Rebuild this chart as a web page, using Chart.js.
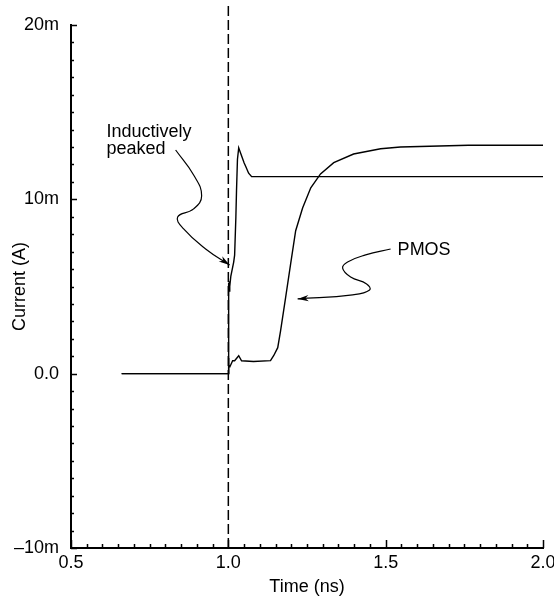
<!DOCTYPE html>
<html>
<head>
<meta charset="utf-8">
<script src="https://cdn.jsdelivr.net/npm/chart.js@4/dist/chart.umd.min.js"></script>
<style>
  html, body { margin: 0; padding: 0; background: #fff; }
</style>
</head>
<body>
<canvas id="chart-area" width="554" height="604"></canvas>
<script>
"use strict";

// Time in ns, current in mA
const TIME_INDUCTIVE = [
  0.661, 1.0, 1.0, 1.001, 1.002, 1.003, 1.004, 1.005, 1.008, 1.017, 1.02,
  1.024, 1.026, 1.029, 1.033, 1.036, 1.04, 1.044, 1.05, 1.055, 1.0645, 1.074, 2.0
];
const CURRENT_INDUCTIVE = [
  0, 0, 3.7, 5.2, 4.6, 5.3, 4.7, 5.0, 5.6, 6.4, 6.8,
  9.0, 10.5, 12.3, 12.95, 12.8, 12.6, 12.4, 12.1, 11.9, 11.5, 11.3, 11.3
];

const TIME_PMOS = [
  0.661, 1.0, 1.0, 1.002, 1.005, 1.0137, 1.02, 1.033, 1.042, 1.08, 1.134,
  1.144, 1.157, 1.166, 1.182, 1.198, 1.214, 1.236, 1.262, 1.293, 1.335,
  1.398, 1.484, 1.547, 1.763, 2.0
];
const CURRENT_PMOS = [
  0, 0, 0.9, 0.5, 0.4, 0.74, 0.74, 1.03, 0.74, 0.7, 0.75,
  1.03, 1.49, 2.46, 4.36, 6.3, 8.2, 9.5, 10.66, 11.46, 12.1,
  12.6, 12.9, 13.0, 13.1, 13.1
];

// switching instant (dashed marker)
const MARKER_TIME = 1.0;

// tick labels
const TIME_TICKS = [0.5, 1.0, 1.5, 2.0];
const CURRENT_TICKS = { "20": "20m", "10": "10m", "0": "0.0", "-10": "\u201310m" };

// callout paths, in the chart's own units (ns, mA)
const CALLOUT_INDUCTIVE = {
  t: [0.8325, 0.8897, 0.9152, 0.8897, 0.8389, 0.858, 0.9279, 1.0041],
  i: [12.83, 11.4, 10.2, 9.45, 8.99, 8.3, 7.15, 6.23],
  text: ["Inductively", "peaked"],
  textT: 0.613,
  textI: [13.58, 12.61]
};
const CALLOUT_PMOS = {
  t: [1.5157, 1.4363, 1.379, 1.3632, 1.3886, 1.4395, 1.449, 1.395, 1.2202],
  i: [7.15, 6.81, 6.41, 6.06, 5.55, 5.15, 4.8, 4.52, 4.29],
  text: ["PMOS"],
  textT: 1.538,
  textI: [6.81]
};

const FONT = { family: '"Liberation Sans", Arial, Helvetica, sans-serif', size: 18 };

function points(ts, vs) {
  return ts.map((t, k) => ({ x: t, y: vs[k] }));
}

function isMajorTime(v) {
  return TIME_TICKS.some(t => Math.abs(t - v) < 1e-6);
}
function isMajorCurrent(v) {
  return CURRENT_TICKS[String(Math.round(v))] !== undefined && Math.abs(v - Math.round(v)) < 1e-6;
}

const curve = {
  showLine: true,
  borderColor: "#000",
  borderWidth: 1.4,
  pointRadius: 0,
  tension: 0
};

const arrow = {
  showLine: true,
  borderColor: "#000",
  borderWidth: 1.2,
  pointRadius: 0,
  tension: 0.45,
  callout: true
};

// inward tick marks, arrowheads and callout text
const decorations = {
  id: "decorations",
  afterDraw(chart) {
    const ctx = chart.ctx;
    const area = chart.chartArea;
    const xs = chart.scales.x;
    const ys = chart.scales.y;

    ctx.save();
    ctx.strokeStyle = "#000";
    ctx.lineWidth = 1.5;
    ctx.beginPath();
    xs.ticks.forEach(tk => {
      const px = Math.round(xs.getPixelForValue(tk.value)) + 0.5;
      const len = isMajorTime(tk.value) ? 8 : 4;
      ctx.moveTo(px, area.bottom);
      ctx.lineTo(px, area.bottom - len);
    });
    ys.ticks.forEach(tk => {
      const py = Math.round(ys.getPixelForValue(tk.value)) + 0.5;
      const len = isMajorCurrent(tk.value) ? 6 : 3;
      ctx.moveTo(area.left, py);
      ctx.lineTo(area.left + len, py);
    });
    ctx.stroke();

    // arrowheads at the end of each callout
    chart.data.datasets.forEach((ds, di) => {
      if (!ds.callout) return;
      const pts = chart.getDatasetMeta(di).data;
      const tip = pts[pts.length - 1];
      const fromX = tip.cp1x !== undefined ? tip.cp1x : pts[pts.length - 2].x;
      const fromY = tip.cp1y !== undefined ? tip.cp1y : pts[pts.length - 2].y;
      const a = Math.atan2(tip.y - fromY, tip.x - fromX);
      const L = 11, W = 3.2;
      ctx.fillStyle = "#000";
      ctx.beginPath();
      ctx.moveTo(tip.x, tip.y);
      ctx.lineTo(tip.x - L * Math.cos(a) + W * Math.sin(a), tip.y - L * Math.sin(a) - W * Math.cos(a));
      ctx.lineTo(tip.x - L * 0.7 * Math.cos(a), tip.y - L * 0.7 * Math.sin(a));
      ctx.lineTo(tip.x - L * Math.cos(a) - W * Math.sin(a), tip.y - L * Math.sin(a) + W * Math.cos(a));
      ctx.closePath();
      ctx.fill();
    });

    ctx.font = FONT.size + "px " + FONT.family;
    ctx.fillStyle = "#000";
    ctx.textAlign = "left";
    ctx.textBaseline = "alphabetic";
    [CALLOUT_INDUCTIVE, CALLOUT_PMOS].forEach(c => {
      c.text.forEach((line, k) => {
        ctx.fillText(line, xs.getPixelForValue(c.textT), ys.getPixelForValue(c.textI[k]));
      });
    });
    ctx.restore();
  }
};

const config = {
  type: "scatter",
  data: {
    datasets: [
      Object.assign({ label: "Inductively peaked", data: points(TIME_INDUCTIVE, CURRENT_INDUCTIVE) }, curve),
      Object.assign({ label: "PMOS", data: points(TIME_PMOS, CURRENT_PMOS) }, curve),
      {
        label: "switch",
        data: [{ x: MARKER_TIME, y: -10 }, { x: MARKER_TIME, y: 21.15 }],
        showLine: true,
        borderColor: "#000",
        borderWidth: 1.5,
        borderDash: [10, 4],
        pointRadius: 0,
        clip: false
      },
      Object.assign({ label: "callout1", data: points(CALLOUT_INDUCTIVE.t, CALLOUT_INDUCTIVE.i) }, arrow),
      Object.assign({ label: "callout2", data: points(CALLOUT_PMOS.t, CALLOUT_PMOS.i) }, arrow)
    ]
  },
  options: {
    responsive: false,
    animation: false,
    events: [],
    layout: { padding: { top: 25, right: 11, bottom: 0, left: 0 } },
    plugins: {
      legend: { display: false },
      tooltip: { enabled: false }
    },
    scales: {
      x: {
        type: "linear",
        min: 0.5,
        max: 2.0,
        afterFit(scale) {
          scale.height = 56;
          // let the last label run off the edge, as in the original
          scale.paddingLeft = 0;
          scale.paddingRight = 0;
        },
        grid: { display: false, drawTicks: false },
        border: { display: true, color: "#000", width: 2 },
        ticks: {
          stepSize: 0.05,
          autoSkip: false,
          maxRotation: 0,
          padding: 4,
          color: "#000",
          font: FONT,
          callback: v => (isMajorTime(v) ? v.toFixed(1) : "")
        },
        title: {
          display: true,
          text: "Time (ns)",
          color: "#000",
          font: FONT,
          padding: { top: 0, bottom: 6 }
        }
      },
      y: {
        type: "linear",
        min: -10,
        max: 20,
        afterFit(scale) {
          scale.width = 71;
          scale.paddingTop = 0;
          scale.paddingBottom = 0;
        },
        grid: { display: false, drawTicks: false },
        border: { display: true, color: "#000", width: 2 },
        ticks: {
          stepSize: 1,
          autoSkip: false,
          padding: 12,
          color: "#000",
          font: FONT,
          callback: v => (isMajorCurrent(v) ? CURRENT_TICKS[String(Math.round(v))] : "")
        },
        title: {
          display: true,
          text: "Current (A)",
          color: "#000",
          font: FONT,
          padding: { top: 9, bottom: 0 }
        }
      }
    }
  },
  plugins: [decorations]
};

window.onload = function() {
  const ctx = document.getElementById("chart-area").getContext("2d");
  window.myChart = new Chart(ctx, config);
};
</script>
</body>
</html>
